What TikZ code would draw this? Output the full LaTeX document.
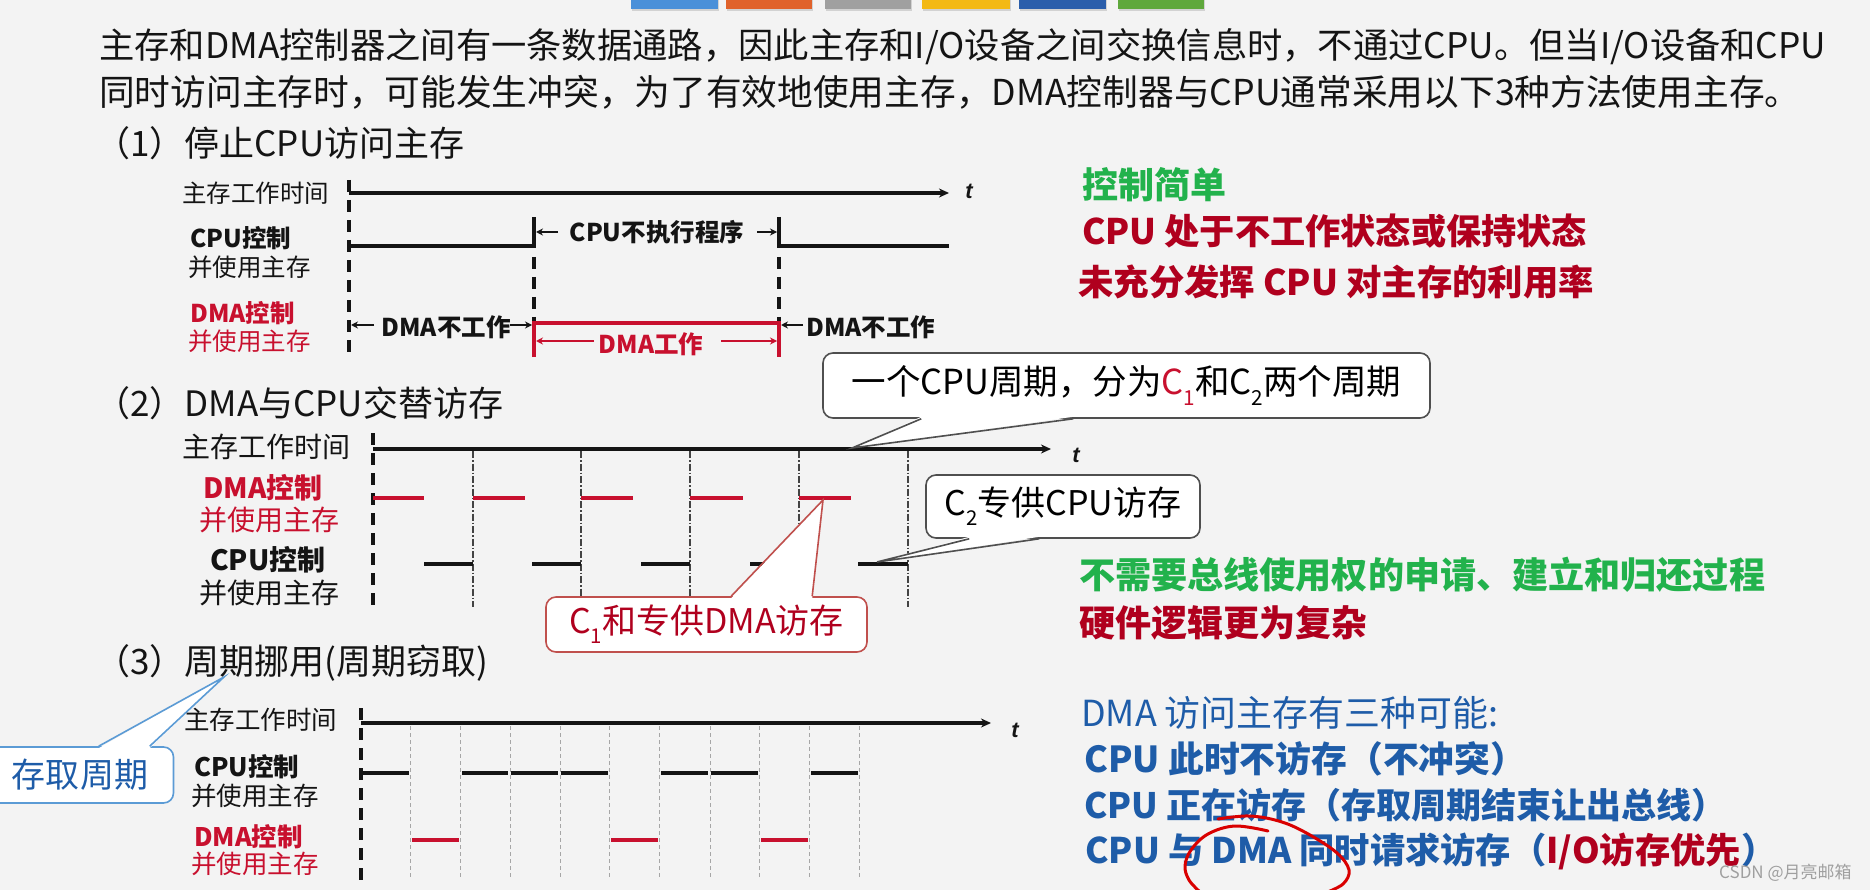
\documentclass[tikz,border=0pt]{standalone}
\usepackage{fontspec}
\setmainfont{Noto Sans CJK SC}
\newfontfamily\tfont{Liberation Sans}
\usetikzlibrary{arrows.meta,calc}
\definecolor{bg}{HTML}{F3F3F3}
\definecolor{txt}{HTML}{141414}
\definecolor{dred}{HTML}{B0001E}
\definecolor{lred}{HTML}{C8102E}
\definecolor{grn}{HTML}{22B24C}
\definecolor{blu}{HTML}{1E5CA8}
\definecolor{lblu}{HTML}{5B9BD5}
\definecolor{cred}{HTML}{C0504D}
\definecolor{tabA}{HTML}{4A90D9}
\definecolor{tabB}{HTML}{E0622B}
\definecolor{tabC}{HTML}{A0A0A0}
\definecolor{tabD}{HTML}{F3B915}
\definecolor{tabE}{HTML}{2B5EAB}
\definecolor{tabF}{HTML}{5FA83C}
\newcommand\fs[1]{\fontsize{#1}{#1}\selectfont}
\newcommand\mysub[1]{\raisebox{-0.3em}{\scalebox{0.6}{#1}}}
\tikzset{
  tx/.style={inner sep=0pt, anchor=west, text=txt},
  para/.style={tx, font=\fs{#1}},
  head/.style={tx, font=\fs{35}},
  rt/.style={tx, font=\fs{#1}\bfseries},
  bt/.style={tx, font=\fs{#1}\bfseries, text=blu},
  lb/.style={tx, font=\fs{#1}},
  tsym/.style={inner sep=0pt, text=txt, font=\fs{22}\tfont\bfseries\itshape},
  axis/.style={line width=3.4pt, draw=txt, -{Stealth[length=10pt,width=9pt]}},
  vdash/.style={line width=3.4pt, draw=txt, dash pattern=on 12pt off 8pt},
  sig/.style={line width=3.4pt, draw=txt},
  rsig/.style={line width=3.4pt, draw=lred},
  arr/.style={line width=2.2pt, draw=txt, -{Stealth[length=7pt,width=7pt]}},
  rarr/.style={line width=2.2pt, draw=lred, -{Stealth[length=7pt,width=7pt]}},
  ddot/.style={line width=1.1pt, draw=txt!80, dash pattern=on 7pt off 2pt on 1.5pt off 2pt},
  gdash/.style={line width=1pt, draw=gray!70, dash pattern=on 4pt off 3pt},
  callout/.style={draw=#1, line width=1.6pt, rounded corners=10pt, fill=white, inner sep=0pt},
  cline/.style={draw=#1, line width=1.6pt, line join=miter},
}
\begin{document}
\begin{tikzpicture}[x=1pt,y=-1pt]
\useasboundingbox (0,0) rectangle (1870,890);
\fill[bg] (0,0) rectangle (1870,890);
% tabs
\foreach \a/\b/\c in {631/718/tabA,726/812/tabB,825/911/tabC,922/1010/tabD,1019/1106/tabE,1118/1204/tabF}{
  \fill[gray!35] (\a+1,0) rectangle (\b+1,11);
  \fill[\c] (\a,0) rectangle (\b,9);
}
% paragraph
\node[para=35.3] (p1) at (99,47) {主存和DMA控制器之间有一条数据通路，因此主存和I/O设备之间交换信息时，不通过CPU。但当I/O设备和CPU};
\node[para=35.7] (p2) at (99,92) {同时访问主存时，可能发生冲突，为了有效地使用主存，DMA控制器与CPU通常采用以下3种方法使用主存。};
\node[head] (h1) at (95,143) {（1）停止CPU访问主存};
\node[head] (h2) at (95,403) {（2）DMA与CPU交替访存};
\node[head] (h3) at (95,663) {（3）周期挪用(周期窃取)};

% ===== section 1 =====
\node[lb=24.5] (s1a) at (182,193) {主存工作时间};
\node[lb=24.5] (s1b) at (190,238) {\bfseries CPU控制};
\node[lb=24.5] (s1c) at (188,267) {并使用主存};
\node[lb=24.5, text=lred] (s1d) at (190,313) {\bfseries DMA控制};
\node[lb=24.5, text=lred] (s1e) at (188,341) {并使用主存};
\draw[vdash] (349,180) -- (349,357);
\draw[axis] (349,193) -- (949,193);
\node[tsym] (t1) at (969,191) {t};
\draw[sig] (349,246) -- (534,246) -- (534,217);
\draw[sig] (779,217) -- (779,246) -- (949,246);
\draw[vdash] (534,257) -- (534,323);
\draw[vdash] (779,257) -- (779,323);
\draw[rsig] (534,357) -- (534,323) -- (779,323) -- (779,357);
\node[lb=24.5, anchor=center] (n1) at (657,232) {\bfseries CPU不执行程序};
\draw[arr] (558,232) -- (536,232);
\draw[arr] (757,232) -- (777,232);
\node[lb=24.5, anchor=center] (n2) at (446,327) {\bfseries DMA不工作};
\draw[arr] (374,325) -- (351,325);
\draw[arr] (510,325) -- (532,325);
\node[lb=24.5] (n3) at (806,327) {\bfseries DMA不工作};
\draw[arr] (803,325) -- (781,325);
\node[lb=24.5, anchor=center, text=lred] (n4) at (651,344) {\bfseries DMA工作};
\draw[rarr] (594,341) -- (536,341);
\draw[rarr] (721,341) -- (777,341);
\node[rt=36, text=grn] (r1) at (1082,185) {控制简单};
\node[rt=35.2, text=dred] (r2) at (1082,231) {CPU 处于不工作状态或保持状态};
\node[rt=35.4, text=dred] (r3) at (1078,282) {未充分发挥 CPU 对主存的利用率};

% ===== section 2 =====
\node[lb=28] (s2a) at (182,447) {主存工作时间};
\node[lb=28, text=lred] (s2b) at (203,488) {\bfseries DMA控制};
\node[lb=28, text=lred] (s2c) at (199,520) {并使用主存};
\node[lb=28] (s2d) at (210,560) {\bfseries CPU控制};
\node[lb=28] (s2e) at (199,593) {并使用主存};
\draw[vdash] (373,433) -- (373,607);
\foreach \x in {473,581,690,799,908} \draw[ddot] (\x,451) -- (\x,607);
\draw[axis] (373,449) -- (1051,449);
\node[tsym] (t2) at (1076,455) {t};
\foreach \a/\b in {373/424,473/525,581/633,690/743,799/851} \draw[rsig] (\a,498) -- (\b,498);
\foreach \a/\b in {424/473,532/581,641/690,750/799,858/908} \draw[sig] (\a,564) -- (\b,564);

% callouts
\node[callout=txt!75, minimum width=607pt, minimum height=65pt, font=\fs{34.5}] (cb1) at (1126.5,385.5) {一个CPU周期，分为\textcolor{lred}{C\mysub{1}}和C\mysub{2}两个周期};
\coordinate (tip1) at (852,448);
\fill[white] ([xshift=99pt,yshift=2pt]cb1.south west) -- (tip1) -- ([xshift=251pt,yshift=2pt]cb1.south west) -- cycle;
\draw[cline=txt!75] ([xshift=99pt]cb1.south west) -- (tip1) -- ([xshift=251pt]cb1.south west);

\node[callout=txt!75, minimum width=274pt, minimum height=63pt, font=\fs{34}] (cb2) at (1063,506.5) {C\mysub{2}专供CPU访存};
\coordinate (tip2) at (877,562);
\fill[white] ([xshift=44pt,yshift=2pt]cb2.south west) -- (tip2) -- ([xshift=114pt,yshift=2pt]cb2.south west) -- cycle;
\draw[cline=txt!75] ([xshift=44pt]cb2.south west) -- (tip2) -- ([xshift=114pt]cb2.south west);

\node[callout=cred, minimum width=321pt, minimum height=55pt, font=\fs{34}, text=dred] (cb3) at (706.5,624.5) {C\mysub{1}和专供DMA访存};
\coordinate (tip3) at (823,500);
\fill[white] ([xshift=186pt,yshift=-2pt]cb3.north west) -- (tip3) -- ([xshift=267pt,yshift=-2pt]cb3.north west) -- cycle;
\draw[cline=cred] ([xshift=186pt]cb3.north west) -- (tip3) -- ([xshift=267pt]cb3.north west);

\node[callout=lblu, minimum width=201pt, minimum height=56pt, font=\fs{34}, text=blu] (cb4) at (73,775) {\hspace*{14pt}存取周期};
\coordinate (tip4) at (224,677);
\fill[white] ([xshift=127pt,yshift=-2pt]cb4.north west) -- (tip4) -- ([xshift=178pt,yshift=-2pt]cb4.north west) -- cycle;
\draw[cline=lblu] ([xshift=127pt]cb4.north west) -- (tip4) -- ([xshift=178pt]cb4.north west);

\node[rt=36.1, text=grn] (r4) at (1079,575) {不需要总线使用权的申请、建立和归还过程};
\node[rt=36.1, text=dred] (r5) at (1079,623) {硬件逻辑更为复杂};

% ===== section 3 =====
\node[lb=25.5] (s3a) at (184,720) {主存工作时间};
\node[lb=25.5] (s3b) at (194,767) {\bfseries CPU控制};
\node[lb=25.5] (s3c) at (191,796) {并使用主存};
\node[lb=25.5, text=lred] (s3d) at (194,837) {\bfseries DMA控制};
\node[lb=25.5, text=lred] (s3e) at (191,864) {并使用主存};
\draw[vdash] (361,708) -- (361,880);
\foreach \x in {410,460,510,560,609,659,710,759,809,859} \draw[gdash] (\x,726) -- (\x,878);
\draw[axis] (361,723) -- (991,723);
\node[tsym] (t3) at (1015,730) {t};
\foreach \a/\b in {361/409,462/508,511/558,561/608,661/708,711/758,811/858} \draw[sig] (\a,773) -- (\b,773);
\foreach \a/\b in {412/459,611/658,761/808} \draw[rsig] (\a,840) -- (\b,840);

\node[tx, font=\fs{35.9}, text=blu] (r6) at (1081,713) {DMA 访问主存有三种可能:};
\node[bt=35.8] (r7) at (1084,759) {CPU 此时不访存（不冲突）};
\node[bt=35] (r8) at (1084,805) {CPU 正在访存（存取周期结束让出总线）};
\node[bt=35.3] (r9) at (1085,851) {CPU 与 DMA 同时请求访存（\textcolor{dred}{I/O访存优先}）};

% red scribble
\draw[draw=red!85!black, line width=3pt, line cap=round] plot[smooth, tension=0.6] coordinates {(1218,819) (1250,816) (1282,822) (1310,835) (1337,853) (1349,870) (1343,884) (1325,893)};
\draw[draw=red!85!black, line width=3pt, line cap=round] plot[smooth, tension=0.6] coordinates {(1268,831) (1235,826) (1208,834) (1191,850) (1185,866) (1189,880) (1200,892)};

\node[tx, font=\fs{17}, text=gray!75] (wm) at (1719,873) {CSDN @月亮邮箱};
\end{tikzpicture}
\end{document}
